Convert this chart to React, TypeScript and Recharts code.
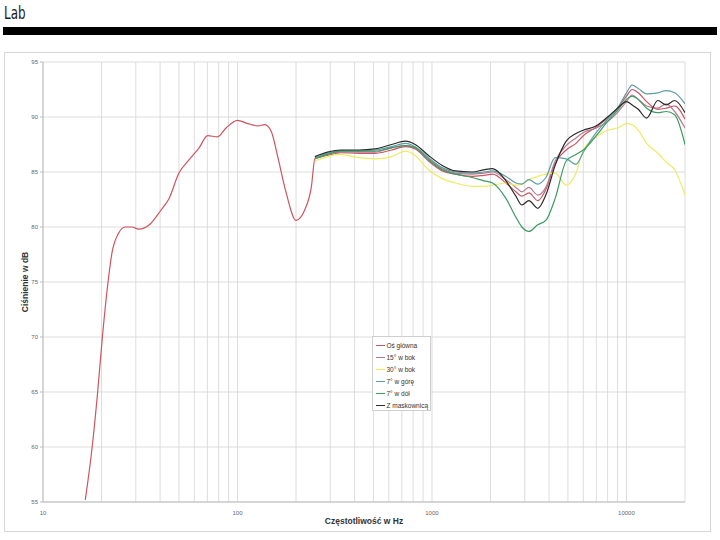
import React from 'react';
import {
  LineChart,
  Line,
  XAxis,
  YAxis,
  CartesianGrid,
} from 'recharts';

// frequency points of the bass part (only the main axis was measured there)
const lowFreq = [
  16.5, 17.9, 19.1, 20.2, 21.6, 22.6, 24.4, 26.5, 28.7, 31, 35.7, 40.3, 44.5, 50,
  56.3, 63.5, 70.2, 79, 87.3, 100, 113, 127, 138, 149, 161, 178, 200, 221, 240,
];
const lowMain = [
  55.2, 60, 65, 70, 75, 77.6, 79.4, 80.0, 80.0, 79.8, 80.3, 81.5, 82.6, 84.9,
  86.1, 87.2, 88.3, 88.2, 89.0, 89.7, 89.4, 89.2, 89.3, 88.7, 86.4, 83.1, 80.6, 81.5, 83.7,
];

// all six measurements from 250 Hz up
const highFreq = [
  250, 290, 340, 420, 510, 620, 730, 820, 960, 1130, 1320, 1610, 1850, 2050, 2400,
  2700, 2900, 3150, 3500, 3850, 4300, 4900, 5500, 6000, 7000, 8000, 9000, 10000,
  10700, 11500, 12700, 14500, 16000, 17700, 20000,
];
const osGlowna = [
  86.2, 86.5, 86.75, 86.7, 86.7, 87.0, 87.3, 87.1, 86.0, 85.1, 84.8, 84.6, 84.7, 84.8, 84.0,
  83.2, 82.8, 83.1, 82.4, 83.4, 85.8, 87.0, 87.6, 88.3, 89.1, 89.9, 90.8, 91.9,
  92.5, 92.2, 91.4, 90.7, 90.8, 91.0, 89.8,
];
const bok15 = [
  86.2, 86.6, 86.8, 86.8, 86.8, 87.2, 87.4, 87.2, 86.2, 85.3, 84.9, 84.8, 84.9, 85.0, 84.3,
  83.6, 83.2, 83.6, 82.9, 83.6, 86.0, 87.4, 88.1, 88.6, 89.0, 89.6, 90.4, 91.4,
  92.0, 91.6, 91.0, 90.8, 91.2, 90.5, 89.0,
];
const bok30 = [
  86.0, 86.4, 86.6, 86.3, 86.2, 86.4, 86.9, 86.5, 85.2, 84.4, 84.0, 83.7, 83.7, 83.8, 84.0,
  83.8, 83.9, 84.3, 84.6, 84.8, 84.9, 83.8, 84.9, 87.0, 88.2, 88.8, 89.0, 89.4,
  89.3, 88.8, 87.6, 86.7, 85.9, 85.2, 82.9,
];
const gora7 = [
  86.3, 86.7, 86.95, 86.9, 87.0, 87.3, 87.6, 87.3, 86.3, 85.4, 85.0, 84.9, 85.0, 85.1, 84.6,
  84.0, 83.9, 84.3, 83.9, 84.5, 86.3, 86.2, 85.7, 86.8, 88.6, 89.8, 90.8, 92.2,
  92.9, 92.6, 92.1, 92.2, 92.4, 92.2, 91.2,
];
const dol7 = [
  86.2, 86.6, 86.9, 86.9, 86.9, 87.2, 87.4, 87.2, 86.1, 85.2, 84.8, 84.5, 84.2, 84.0, 82.6,
  80.9, 80.0, 79.6, 80.2, 80.6, 82.6, 86.0, 86.6, 87.0, 88.3, 89.6, 90.6, 91.6,
  91.9, 91.6, 90.8, 90.4, 90.5, 90.2, 87.5,
];
const maskownica = [
  86.4, 86.8, 87.0, 87.0, 87.1, 87.5, 87.8, 87.5, 86.5, 85.6, 85.1, 85.0, 85.2, 85.3, 84.2,
  82.8, 82.0, 82.4, 81.7, 82.9, 85.6, 87.8, 88.5, 88.8, 89.2, 90.0, 90.8, 91.4,
  91.1, 90.7, 89.9, 91.5, 91.1, 91.5, 90.4,
];

const gridFreq = [
  10, 20, 30, 40, 50, 60, 70, 80, 90, 100, 200, 300, 400, 500, 600, 700, 800, 900,
  1000, 2000, 3000, 4000, 5000, 6000, 7000, 8000, 9000, 10000, 20000,
];
const freqLabels = [10, 100, 1000, 10000];
const dbTicks = [55, 60, 65, 70, 75, 80, 85, 90, 95];

const toPoints = (fs: number[], vs: number[]) => fs.map((f, i) => ({ f, db: vs[i] }));

const series = [
  { name: 'Oś główna', color: '#cc5560', data: toPoints([...lowFreq, ...highFreq], [...lowMain, ...osGlowna]) },
  { name: '15° w bok', color: '#b87a90', data: toPoints(highFreq, bok15) },
  { name: '30° w bok', color: '#ecec62', data: toPoints(highFreq, bok30) },
  { name: '7° w górę', color: '#5e9ea4', data: toPoints(highFreq, gora7) },
  { name: '7° w dół', color: '#3d9a64', data: toPoints(highFreq, dol7) },
  { name: 'Z maskownicą', color: '#2a2a2a', data: toPoints(highFreq, maskownica) },
];

const font = "'Liberation Sans', Arial, sans-serif";

const LegendBox = () => (
  <div
    style={{
      position: 'absolute',
      left: 372,
      top: 336,
      width: 59,
      height: 75,
      boxSizing: 'border-box',
      background: '#fff',
      border: '1px solid #cfcfcf',
      padding: '2px 0 0 3px',
      fontFamily: font,
      fontSize: 6.5,
      color: '#333',
    }}
  >
    {series.map((s) => (
      <div key={s.name} style={{ display: 'flex', alignItems: 'center', height: 12, whiteSpace: 'nowrap' }}>
        <span style={{ width: 9, height: 1, background: s.color, marginRight: 1.5, flex: 'none' }} />
        {s.name}
      </div>
    ))}
  </div>
);

export default function App() {
  return (
    <div style={{ position: 'absolute', left: 0, top: 0, width: 720, height: 540, background: '#fff' }}>
      <div
        style={{
          position: 'absolute',
          left: 4,
          top: 3,
          fontFamily: "'Liberation Sans Narrow', 'DejaVu Sans Condensed', sans-serif",
          fontSize: 17,
          lineHeight: '20px',
          color: '#1a1a1a',
          transform: 'scaleX(0.78)',
          transformOrigin: 'left',
        }}
      >
        Lab
      </div>
      <div style={{ position: 'absolute', left: 3, top: 27, width: 714, height: 8, background: '#000' }} />
      <div
        style={{
          position: 'absolute',
          left: 4,
          top: 52,
          width: 707,
          height: 480,
          border: '1px solid #d6d6d6',
          boxSizing: 'border-box',
        }}
      />
      <div style={{ position: 'absolute', left: 5, top: 52 }}>
        <LineChart width={707} height={480} margin={{ top: 10, right: 27, bottom: 0, left: 0 }}>
          <CartesianGrid stroke="#d4d4d4" strokeWidth={0.8} />
          <XAxis
            dataKey="f"
            type="number"
            scale="log"
            domain={[10, 20000]}
            ticks={gridFreq}
            interval={0}
            allowDataOverflow
            height={30}
            tickLine={false}
            axisLine={{ stroke: '#bdbdbd' }}
            tick={{ fontSize: 6, fill: '#666', fontFamily: font }}
            tickMargin={3}
            tickFormatter={(v: number) => (freqLabels.includes(v) ? String(v) : '')}
            label={{
              value: 'Częstotliwość w Hz',
              position: 'insideBottom',
              offset: 8,
              style: { fontSize: 8.5, fontWeight: 'bold', fill: '#333', fontFamily: font },
            }}
          />
          <YAxis
            type="number"
            domain={[55, 95]}
            ticks={dbTicks}
            interval={0}
            width={38}
            tickSize={3}
            tickLine={{ stroke: '#bdbdbd' }}
            axisLine={{ stroke: '#bdbdbd' }}
            tick={{ fontSize: 6, fill: '#666', fontFamily: font }}
            label={{
              value: 'Ciśnienie w dB',
              angle: -90,
              position: 'insideLeft',
              offset: 20,
              style: { textAnchor: 'middle', fontSize: 8.5, fontWeight: 'bold', fill: '#333', fontFamily: font },
            }}
          />
          {series.map((s) => (
            <Line
              key={s.name}
              data={s.data}
              dataKey="db"
              name={s.name}
              type="monotone"
              stroke={s.color}
              strokeWidth={1.2}
              dot={false}
              isAnimationActive={false}
            />
          ))}
        </LineChart>
      </div>
      <LegendBox />
    </div>
  );
}
